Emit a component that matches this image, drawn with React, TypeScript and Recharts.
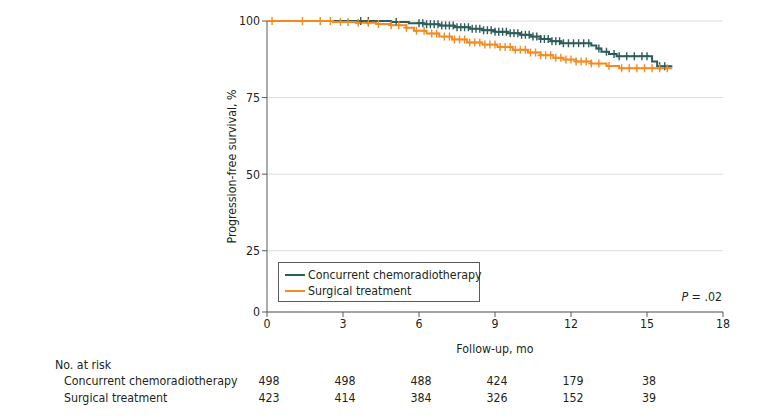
import { CartesianGrid, Label, Line, LineChart, XAxis, YAxis } from "recharts";

const FONT = "'DejaVu Sans Condensed', Lato, sans-serif";
const FS = 12.3;
const TEXT = "#231f20";
const AXIS = "#5a5a5a";
const TEAL = "#2c5d5b";
const ORANGE = "#f7891f";

// Kaplan-Meier steps (month, % progression-free)
const ccrtTimes = [0, 4.9, 5.6, 6.2, 6.8, 7.4, 8.0, 8.5, 9.0, 9.5, 10.0, 10.4, 10.8, 11.2, 11.6, 12.8, 13.0, 13.2, 13.5, 13.8, 15.2, 15.4];
const ccrtSurv = [100, 99.7, 99.3, 98.9, 98.5, 98.0, 97.5, 97.0, 96.5, 96.0, 95.5, 94.9, 94.1, 93.4, 92.7, 92.0, 91.0, 90.0, 89.2, 88.5, 86.8, 85.2];
const ccrtCensor = [
  3.7, 4.0, 5.1, 6.0, 6.15, 6.3, 6.45, 6.6, 6.75, 6.9, 7.05, 7.2, 7.35, 7.5, 7.65, 7.8, 7.95, 8.1, 8.25, 8.4, 8.55, 8.7,
  8.85, 9.0, 9.15, 9.3, 9.45, 9.6, 9.75, 9.9, 10.05, 10.2, 10.35, 10.5, 10.65, 10.8, 10.95, 11.1, 11.25, 11.4, 11.55,
  11.7, 11.9, 12.1, 12.3, 12.5, 12.7, 13.1, 13.4, 13.7, 13.9, 14.2, 14.5, 14.8, 15.0, 15.5, 15.7,
];

const surgTimes = [0, 2.6, 3.5, 4.3, 4.9, 5.5, 5.8, 6.3, 6.8, 7.3, 7.9, 8.5, 9.1, 9.7, 10.3, 10.8, 11.3, 11.7, 12.2, 12.8, 13.4, 13.9];
const surgSurv = [100, 99.7, 99.4, 99.0, 98.6, 97.8, 96.8, 95.9, 94.9, 94.0, 93.0, 92.3, 91.5, 90.6, 89.7, 88.8, 88.0, 87.4, 86.8, 86.1, 85.3, 84.6];
const surgCensor = [
  0.2, 1.4, 2.1, 2.5, 2.9, 3.2, 3.6, 4.0, 4.4, 4.9, 5.2, 5.5, 5.9, 6.2, 6.5, 6.7, 7.0, 7.2, 7.4, 7.6, 7.8, 8.0, 8.2,
  8.4, 8.6, 8.8, 9.0, 9.2, 9.4, 9.6, 9.8, 10.0, 10.2, 10.4, 10.6, 10.8, 11.0, 11.2, 11.4, 11.6, 11.8, 12.0, 12.2, 12.4,
  12.6, 12.8, 13.1, 13.5, 14.0, 14.3, 14.6, 14.9, 15.2, 15.5, 15.8,
];

const followEnd = 16.0;

const xTicks = [0, 3, 6, 9, 12, 15, 18];
// the original axis is cut: its bottom tick is labelled 0
const yTicks = [5, 25, 50, 75, 100];

const groupNames = ["Concurrent chemoradiotherapy", "Surgical treatment"];
const riskTimes = [0, 3, 6, 9, 12, 15];
const ccrtAtRisk = [498, 498, 488, 424, 179, 38];
const surgAtRisk = [423, 414, 384, 326, 152, 39];

type Pt = { t: number; s: number; c: boolean };

function kmSeries(times: number[], surv: number[], censor: number[]): Pt[] {
  const pts: Pt[] = times.map((t, i) => ({ t, s: surv[i], c: false }));
  censor.forEach((t) => {
    let s = surv[0];
    times.forEach((k, i) => {
      if (k <= t) s = surv[i];
    });
    pts.push({ t, s, c: true });
  });
  pts.push({ t: followEnd, s: surv[surv.length - 1], c: false });
  return pts.sort((a, b) => a.t - b.t);
}

const ccrtData = kmSeries(ccrtTimes, ccrtSurv, ccrtCensor);
const surgData = kmSeries(surgTimes, surgSurv, surgCensor);

function censorDot(color: string) {
  return (p: any) => {
    const key = `${p.dataKey}-${p.index}`;
    if (!p.payload?.c) return <g key={key} />;
    const { cx, cy } = p;
    return (
      <path
        key={key}
        d={`M${cx - 3},${cy}H${cx + 3}M${cx},${cy - 4}V${cy + 4}`}
        stroke={color}
        strokeWidth={1.4}
        fill="none"
      />
    );
  };
}

const rowY = [365, 381, 398];
const txt = { fontFamily: FONT, fontSize: FS, fill: TEXT };

function TimeTick(props: any) {
  const { x, y, payload } = props;
  const i = riskTimes.indexOf(payload.value);
  return (
    <g>
      <text x={x} y={y} dy="0.71em" textAnchor="middle" {...txt}>
        {payload.value}
      </text>
      {i >= 0 && (
        <>
          <text x={x + 2} y={rowY[1]} dominantBaseline="central" textAnchor="middle" {...txt}>
            {ccrtAtRisk[i]}
          </text>
          <text x={x + 2} y={rowY[2]} dominantBaseline="central" textAnchor="middle" {...txt}>
            {surgAtRisk[i]}
          </text>
        </>
      )}
      {i === 0 && (
        <>
          <text x={55} y={rowY[0]} dominantBaseline="central" {...txt}>
            No. at risk
          </text>
          <text x={64} y={rowY[1]} dominantBaseline="central" {...txt}>
            {groupNames[0]}
          </text>
          <text x={64} y={rowY[2]} dominantBaseline="central" {...txt}>
            {groupNames[1]}
          </text>
        </>
      )}
    </g>
  );
}

export default function App() {
  return (
    <div style={{ position: "absolute", left: 0, top: 0, width: 780, height: 418, background: "#fff", fontFamily: FONT }}>
      <LineChart width={780} height={418} margin={{ top: 21, right: 57, bottom: 32, left: 207 }}>
        <CartesianGrid horizontal vertical={false} stroke="#dcdcdc" />
        <XAxis
          type="number"
          dataKey="t"
          domain={[0, 18]}
          ticks={xTicks}
          allowDataOverflow
          height={74}
          tick={<TimeTick />}
          tickSize={5}
          tickLine={{ stroke: AXIS }}
          axisLine={{ stroke: AXIS }}
        >
          <Label value="Follow-up, mo" position="center" style={txt} />
        </XAxis>
        <YAxis
          type="number"
          domain={[5, 100]}
          ticks={yTicks}
          width={60}
          tickFormatter={(v: number) => (v === 5 ? "0" : String(v))}
          tick={txt}
          tickSize={5}
          tickLine={{ stroke: AXIS }}
          axisLine={{ stroke: AXIS }}
        >
          <Label value="Progression-free survival, %" angle={-90} position="center" dx={-5} style={txt} />
        </YAxis>
        <Line
          data={ccrtData}
          dataKey="s"
          type="stepAfter"
          stroke={TEAL}
          strokeWidth={2}
          dot={censorDot(TEAL)}
          activeDot={false}
          isAnimationActive={false}
        />
        <Line
          data={surgData}
          dataKey="s"
          type="stepAfter"
          stroke={ORANGE}
          strokeWidth={2}
          dot={censorDot(ORANGE)}
          activeDot={false}
          isAnimationActive={false}
        />
      </LineChart>

      <div
        style={{
          position: "absolute",
          left: 278,
          top: 262,
          width: 200,
          height: 38,
          border: `1px solid ${AXIS}`,
          fontSize: FS,
          color: TEXT,
          boxSizing: "content-box",
          whiteSpace: "nowrap",
        }}
      >
        {groupNames.map((name, i) => (
          <div key={name} style={{ position: "absolute", left: 6, top: 4 + i * 16, height: 16, display: "flex", alignItems: "center" }}>
            <span style={{ display: "inline-block", width: 20, height: 2, background: i === 0 ? TEAL : ORANGE, marginRight: 3 }} />
            <span>{name}</span>
          </div>
        ))}
      </div>

      <div style={{ position: "absolute", right: 58, top: 289, fontSize: FS, color: TEXT, lineHeight: "16px", whiteSpace: "nowrap" }}>
        <i>P</i> = .02
      </div>
    </div>
  );
}
